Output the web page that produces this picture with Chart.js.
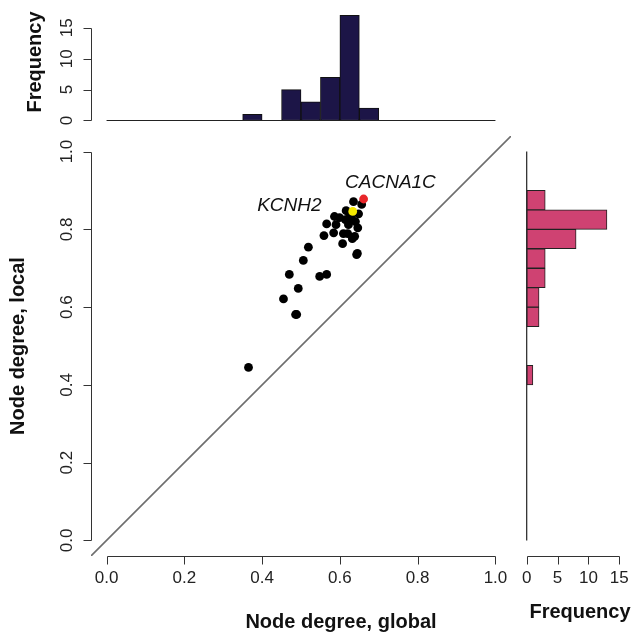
<!DOCTYPE html>
<html>
<head>
<meta charset="utf-8">
<title>Node degree, global vs local</title>
<script src="https://cdn.jsdelivr.net/npm/chart.js@4.4.1/dist/chart.umd.min.js"></script>
<style>
    body { margin: 0; background: #fff; overflow: hidden; }
    #wrap { position: relative; width: 633px; height: 635px; }
    #wrap canvas { position: absolute; left: 0; top: 0; }
</style>
</head>
<body>
<div id="wrap">
    <canvas id="topHist" width="633" height="635"></canvas>
    <canvas id="rightHist" width="633" height="635"></canvas>
    <canvas id="scatter" width="633" height="635"></canvas>
</div>
<script>
// --- Data ---
// black points: node degree global (x) / local (y)
const globalDeg = [0.635, 0.656, 0.616, 0.648, 0.586, 0.599, 0.614, 0.566, 0.590, 0.646,
                   0.559, 0.584, 0.609, 0.620, 0.638, 0.607, 0.519, 0.643, 0.506, 0.470,
                   0.548, 0.566, 0.493, 0.455, 0.486, 0.489, 0.365,
                   0.625, 0.630, 0.640, 0.622, 0.632, 0.645];
const localDeg  = [0.871, 0.864, 0.848, 0.840, 0.833, 0.830, 0.825, 0.814, 0.812, 0.804,
                   0.784, 0.791, 0.789, 0.789, 0.782, 0.763, 0.754, 0.735, 0.720, 0.684,
                   0.679, 0.684, 0.648, 0.621, 0.581, 0.581, 0.445,
                   0.838, 0.828, 0.820, 0.812, 0.776, 0.738];

// highlighted genes
const geneNames  = ['KCNH2', 'CACNA1C'];
const geneGlobal = [0.633, 0.661];
const geneLocal  = [0.846, 0.878];
const geneColors = ['#f5e800', '#e8262a'];
const geneLabelX = [0.470, 0.730];
const geneLabelY = [0.862, 0.919];

// histogram bins (width 0.05)
const binMids = [0.025, 0.075, 0.125, 0.175, 0.225, 0.275, 0.325, 0.375, 0.425, 0.475,
                 0.525, 0.575, 0.625, 0.675, 0.725, 0.775, 0.825, 0.875, 0.925, 0.975];
const globalCounts = [0, 0, 0, 0, 0, 0, 0, 1, 0, 5, 3, 7, 17, 2, 0, 0, 0, 0, 0, 0];
const localCounts  = [0, 0, 0, 0, 0, 0, 0, 0, 1, 0, 0, 2, 2, 3, 3, 8, 13, 3, 0, 0];

// axis ticks
const degreeTicks = [0, 0.2, 0.4, 0.6, 0.8, 1.0];
const freqTicks = [0, 5, 10, 15];

const W = 633, H = 635;
const labelFont = '17px "Liberation Sans", Arial, sans-serif';
const titleFont = 'bold 20px "Liberation Sans", Arial, sans-serif';

// keep the bin scale's ticks on the bins so bar width = bin width
const binTicks = scale => { scale.ticks = binMids.map(v => ({ value: v })); };

// --- R style axes: line only between first and last tick ---
const rAxisPlugin = {
    id: 'rAxis',
    afterDraw(chart, args, opts) {
        const ctx = chart.ctx;
        const area = chart.chartArea;
        ctx.save();
        ctx.strokeStyle = '#333';
        ctx.fillStyle = '#222';
        ctx.lineWidth = 1;
        ctx.font = labelFont;

        if (opts.bottom) {
            const s = chart.scales.x;
            const t = opts.bottom.ticks;
            const y0 = Math.round(area.bottom) + 0.5;
            ctx.beginPath();
            ctx.moveTo(Math.round(s.getPixelForValue(t[0])) + 0.5, y0);
            ctx.lineTo(Math.round(s.getPixelForValue(t[t.length - 1])) + 0.5, y0);
            t.forEach(v => {
                const x = Math.round(s.getPixelForValue(v)) + 0.5;
                ctx.moveTo(x, y0);
                ctx.lineTo(x, y0 + 8);
            });
            ctx.stroke();
            ctx.textAlign = 'center';
            ctx.textBaseline = 'middle';
            t.forEach(v => ctx.fillText(opts.bottom.fmt(v), s.getPixelForValue(v), y0 + 22));
        }

        if (opts.left) {
            const s = chart.scales.y;
            const t = opts.left.ticks;
            const x0 = Math.round(area.left) + 0.5;
            ctx.beginPath();
            ctx.moveTo(x0, Math.round(s.getPixelForValue(t[0])) + 0.5);
            ctx.lineTo(x0, Math.round(s.getPixelForValue(t[t.length - 1])) + 0.5);
            t.forEach(v => {
                const y = Math.round(s.getPixelForValue(v)) + 0.5;
                ctx.moveTo(x0, y);
                ctx.lineTo(x0 - 8, y);
            });
            ctx.stroke();
            ctx.textAlign = 'center';
            ctx.textBaseline = 'middle';
            t.forEach(v => {
                ctx.save();
                ctx.translate(x0 - 24, s.getPixelForValue(v));
                ctx.rotate(-Math.PI / 2);
                ctx.fillText(opts.left.fmt(v), 0, 0);
                ctx.restore();
            });
        }

        // axis titles
        ctx.fillStyle = '#111';
        ctx.font = titleFont;
        ctx.textAlign = 'center';
        ctx.textBaseline = 'middle';
        (opts.titles || []).forEach(tt => {
            ctx.save();
            ctx.translate(tt.x, tt.y);
            if (tt.rotate) ctx.rotate(-Math.PI / 2);
            ctx.fillText(tt.text, 0, 0);
            ctx.restore();
        });

        // gene labels
        if (opts.genes) {
            ctx.font = 'italic 19px "Liberation Sans", Arial, sans-serif';
            ctx.fillStyle = '#111';
            geneNames.forEach((name, i) => {
                ctx.fillText(name, chart.scales.x.getPixelForValue(geneLabelX[i]),
                             chart.scales.y.getPixelForValue(geneLabelY[i]));
            });
        }
        ctx.restore();
    }
};

const fmt1 = v => v.toFixed(1);
const fmt0 = v => String(v);

// --- Top histogram: global degree ---
new Chart(document.getElementById('topHist'), {
    type: 'bar',
    data: {
        datasets: [
            {
                type: 'line',
                data: [{ x: 0, y: 0 }, { x: 1, y: 0 }],
                borderColor: '#222',
                borderWidth: 1.2,
                pointRadius: 0,
                order: 0
            },
            {
                data: binMids.map((m, i) => ({ x: m, y: globalCounts[i] })),
                backgroundColor: '#1c1547',
                borderColor: '#111',
                borderWidth: 1,
                borderSkipped: false,
                barPercentage: 1,
                categoryPercentage: 1,
                order: 1
            }
        ]
    },
    options: {
        responsive: false,
        animation: false,
        layout: { padding: { left: 91, right: W - 511, top: 11.2, bottom: H - 124.7 } },
        scales: {
            x: { type: 'linear', offset: false, min: -0.04, max: 1.04, display: false,
                 afterBuildTicks: binTicks },
            y: { type: 'linear', min: -0.68, max: 17.68, display: false }
        },
        plugins: {
            legend: { display: false },
            tooltip: { enabled: false },
            rAxis: {
                left: { ticks: freqTicks, fmt: fmt0 },
                titles: [{ text: 'Frequency', x: 35, y: 62, rotate: true }]
            }
        }
    },
    plugins: [rAxisPlugin]
});

// --- Right histogram: local degree ---
new Chart(document.getElementById('rightHist'), {
    type: 'bar',
    data: {
        datasets: [
            {
                type: 'line',
                data: [{ x: 0, y: 0 }, { x: 0, y: 1 }],
                borderColor: '#222',
                borderWidth: 1.2,
                pointRadius: 0,
                order: 0
            },
            {
                data: binMids.map((m, i) => ({ x: localCounts[i], y: m })),
                backgroundColor: '#cf4272',
                borderColor: '#222',
                borderWidth: 1,
                borderSkipped: false,
                barPercentage: 1,
                categoryPercentage: 1,
                order: 1
            }
        ]
    },
    options: {
        indexAxis: 'y',
        responsive: false,
        animation: false,
        layout: { padding: { left: 522.5, right: 0, top: 136, bottom: H - 556 } },
        scales: {
            x: { type: 'linear', min: -0.68, max: 17.22, display: false },
            y: { type: 'linear', offset: false, min: -0.04, max: 1.04, display: false,
                 afterBuildTicks: binTicks }
        },
        plugins: {
            legend: { display: false },
            tooltip: { enabled: false },
            rAxis: {
                bottom: { ticks: freqTicks, fmt: fmt0 },
                titles: [{ text: 'Frequency', x: 580, y: 612 }]
            }
        }
    },
    plugins: [rAxisPlugin]
});

// --- Main scatter ---
new Chart(document.getElementById('scatter'), {
    type: 'scatter',
    data: {
        datasets: [
            {
                data: [{ x: geneGlobal[1], y: geneLocal[1] }],
                backgroundColor: geneColors[1],
                borderWidth: 0,
                pointRadius: 4.4,
                order: 0
            },
            {
                data: [{ x: geneGlobal[0], y: geneLocal[0] }],
                backgroundColor: geneColors[0],
                borderWidth: 0,
                pointRadius: 4.4,
                order: 1
            },
            {
                data: globalDeg.map((g, i) => ({ x: g, y: localDeg[i] })),
                backgroundColor: '#000',
                borderWidth: 0,
                pointRadius: 4.4,
                order: 2
            },
            {
                // y = x reference line, clipped to the plot region
                type: 'line',
                data: [{ x: -0.1, y: -0.1 }, { x: 1.1, y: 1.1 }],
                borderColor: '#6e6e6e',
                borderWidth: 1.6,
                pointRadius: 0,
                order: 3
            }
        ]
    },
    options: {
        responsive: false,
        animation: false,
        layout: { padding: { left: 91, right: W - 511, top: 136, bottom: H - 556 } },
        scales: {
            x: { type: 'linear', min: -0.04, max: 1.04, display: false },
            y: { type: 'linear', min: -0.04, max: 1.04, display: false }
        },
        plugins: {
            legend: { display: false },
            tooltip: { enabled: false },
            rAxis: {
                bottom: { ticks: degreeTicks, fmt: fmt1 },
                left: { ticks: degreeTicks, fmt: fmt1 },
                genes: true,
                titles: [
                    { text: 'Node degree, global', x: 341, y: 622 },
                    { text: 'Node degree, local', x: 18, y: 346, rotate: true }
                ]
            }
        }
    },
    plugins: [rAxisPlugin]
});
</script>
</body>
</html>
